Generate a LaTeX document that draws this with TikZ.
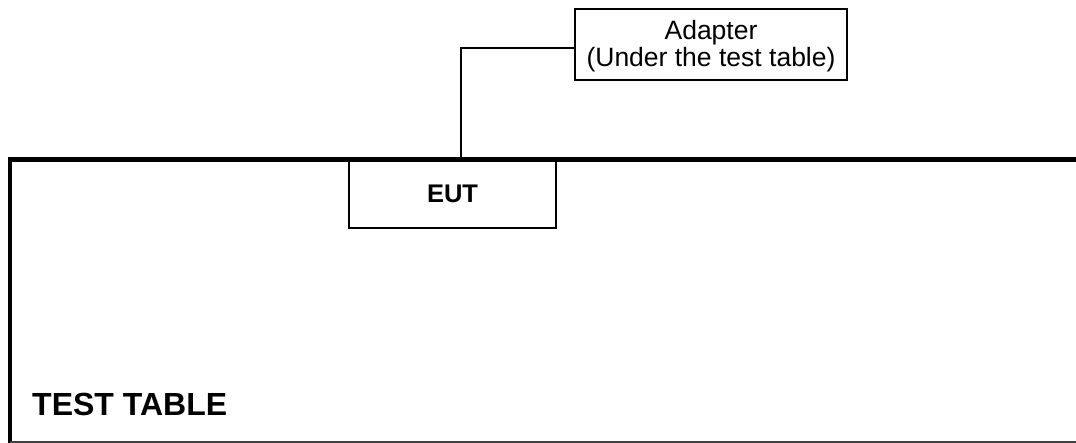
\documentclass[tikz,border=0pt]{standalone}
\usepackage{fontspec}
\setmainfont{Liberation Sans}
\begin{document}
\begin{tikzpicture}[x=1pt,y=-1pt,
  boxstyle/.style={draw=black,line width=1.5pt,inner sep=0pt},
  table/.style={line width=4.5pt,line join=miter},
  wire/.style={line width=1.5pt}]
\useasboundingbox (0,0) rectangle (1076,443);
% table outline
\draw[table] (1076,159.5) -- (10.2,159.5) -- (10.2,443);
\draw[line width=1.2pt,black!75] (10,442) -- (1076,442);
% EUT
\node[boxstyle,minimum width=207pt,minimum height=68pt,font=\fontsize{25.5}{30}\selectfont\bfseries] (eut) at (452.5,194) {EUT};
% adapter
\node[boxstyle,minimum width=272pt,minimum height=71pt] (ad) at (711,44.5) {};
\node[align=center,font=\fontsize{26.5}{27}\selectfont,inner sep=0pt,anchor=base] (adt) at (711,66.5) {Adapter\\(Under the test table)};
\coordinate (bend) at (461,48);
\draw[wire] (461,159.5) -- (bend) -- (ad.west |- bend);
\node[anchor=base west,font=\fontsize{32}{36}\selectfont\bfseries,inner sep=0pt] (tt) at (32,415.7) {TEST TABLE};
\end{tikzpicture}
\end{document}
